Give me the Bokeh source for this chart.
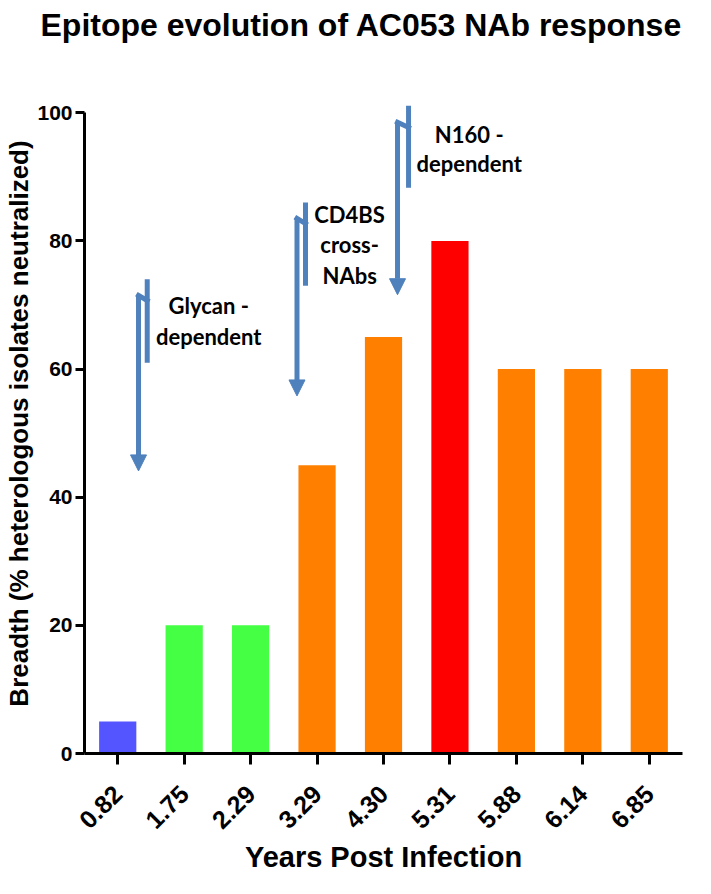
import math
from bokeh.plotting import figure
from bokeh.models import FactorRange, Range1d, FixedTicker, Arrow, NormalHead, Title
from bokeh.core.properties import value
from bokeh.embed import file_html
from bokeh.resources import INLINE

# ---- data ----
years = ["0.82", "1.75", "2.29", "3.29", "4.30", "5.31", "5.88", "6.14", "6.85"]
breadth = [5, 20, 20, 45, 65, 80, 60, 60, 60]
bar_colors = ["#5555ff", "#44ff44", "#44ff44", "#ff8000", "#ff8000",
              "#ff0000", "#ff8000", "#ff8000", "#ff8000"]
y_ticks = [0, 20, 40, 60, 80, 100]

# epitope annotation texts (one entry per line)
ann_text = ["Glycan -", "dependent", "CD4BS", "cross-", "NAbs", "N160 -", "dependent"]
ann_x = [1.87, 1.87, 3.99, 3.99, 3.99, 5.79, 5.79]
ann_y = [69.9, 65.1, 84.1, 79.5, 74.6, 96.6, 92.0]

# annotation arrows (long shaft with head, hook and short bar)
arrow_x = [0.813, 3.198, 4.711]
arrow_top = [71.5, 83.5, 98.5]
arrow_tip = [44.1, 55.8, 71.6]
hook_y = [70.7, 82.7, 97.7]
tick_x = [0.944, 3.326, 4.877]
tick_top = [74.0, 86.0, 101.1]
tick_bottom = [61.0, 73.0, 88.3]
arrow_color = "#4f81bd"

W, H = 695, 878
p = figure(width=W, height=H, output_backend="svg", toolbar_location=None,
           x_range=FactorRange(factors=years, range_padding=0),
           y_range=Range1d(0, 103),
           min_border_left=84, min_border_right=13,
           min_border_top=93, min_border_bottom=125)
p.background_fill_color = "white"
p.border_fill_color = "white"
p.outline_line_color = None
p.xgrid.visible = False
p.ygrid.visible = False

# main title (outermost panel)
p.title.text = "Epitope evolution of AC053 NAb response"
p.title.text_font = "Liberation Sans"
p.title.text_font_style = "bold"
p.title.text_font_size = "32px"
p.title.text_color = "black"
p.title.align = "left"
p.title.offset = -44
p.title.standoff = 6
p.title.vertical_align = "top"

# spacer between the frame and the main title (keeps the title near the top edge)
p.add_layout(Title(text=" ", text_font_size="10px", standoff=33), "above")

p.vbar(x=years, top=breadth, width=0.56, fill_color=bar_colors, line_color=None)

# axes
for ax in (p.xaxis[0], p.yaxis[0]):
    ax.axis_line_width = 3
    ax.axis_line_color = "black"
    ax.major_tick_line_width = 3
    ax.major_tick_line_color = "black"
    ax.major_tick_in = 0
    ax.minor_tick_line_color = None
    ax.major_label_text_font = "Liberation Sans"
    ax.major_label_text_font_style = "bold"
    ax.major_label_text_color = "black"
    ax.axis_label_text_font = "Liberation Sans"
    ax.axis_label_text_font_style = "bold"
    ax.axis_label_text_color = "black"

p.yaxis.ticker = FixedTicker(ticks=y_ticks)
p.yaxis.bounds = (0, 100)
p.yaxis.major_tick_out = 9
p.yaxis.major_label_standoff = 3
p.yaxis.major_label_text_font_size = "21px"
p.yaxis.axis_label = "Breadth (% heterologous isolates neutralized)"
p.yaxis.axis_label_text_font_size = "26px"
p.yaxis.axis_label_standoff = 0

p.xaxis.major_tick_out = 11
p.xaxis.major_label_standoff = 25
p.xaxis.major_label_text_font_size = "25px"
p.xaxis.major_label_orientation = math.pi / 4
p.xaxis.axis_label = "Years Post Infection"
p.xaxis.axis_label_text_font_size = "29px"
p.xaxis.axis_label_standoff = 1

# arrows
hooks_xs = [[a, b] for a, b in zip(arrow_x, tick_x)]
hooks_ys = [[a, b] for a, b in zip(arrow_top, hook_y)]
p.multi_line(xs=hooks_xs, ys=hooks_ys, line_color=arrow_color, line_width=5, line_cap="square")
bars_xs = [[b, b] for b in tick_x]
bars_ys = [[t, bt] for t, bt in zip(tick_top, tick_bottom)]
p.multi_line(xs=bars_xs, ys=bars_ys, line_color=arrow_color, line_width=5)
for ax_, top_, tip_ in zip(arrow_x, arrow_top, arrow_tip):
    p.add_layout(Arrow(end=NormalHead(size=16, fill_color=arrow_color, line_color=arrow_color),
                       x_start=ax_, y_start=top_, x_end=ax_, y_end=tip_,
                       line_color=arrow_color, line_width=5))

p.text(x=ann_x, y=ann_y, text=ann_text, text_align="center", text_baseline="alphabetic",
       text_font=value("Lato"), text_font_style="bold", text_font_size=value("22px"),
       text_color="black")

open("out.html", "w").write(file_html(p, INLINE))
